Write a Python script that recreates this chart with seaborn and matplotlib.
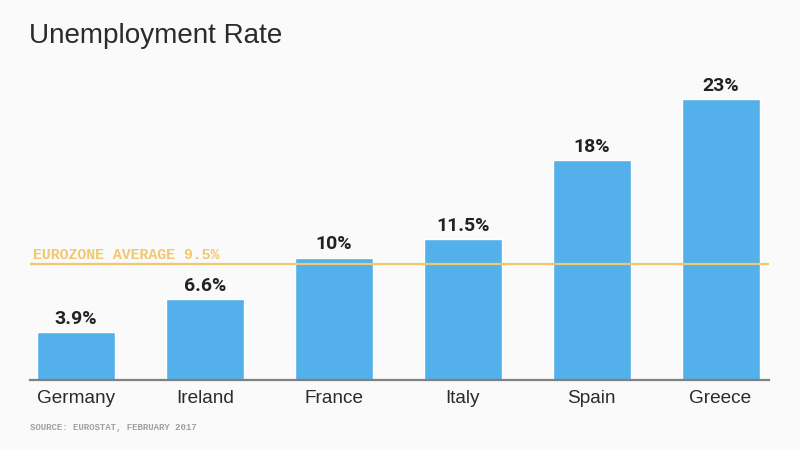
import matplotlib
matplotlib.use('Agg')
import matplotlib.pyplot as plt
import seaborn as sns

# Datos
countries = ['Germany', 'Ireland', 'France', 'Italy', 'Spain', 'Greece']
rates = [3.9, 6.6, 10, 11.5, 18, 23]
rate_labels = ['3.9%', '6.6%', '10%', '11.5%', '18%', '23%']
eurozone_avg = 9.5

BG = '#fafafa'
BLUE = '#54b0ea'
YELLOW = '#f2c76e'
DARK = '#2b2b2b'

sns.set_style("white")
plt.rcParams['font.family'] = ['Liberation Sans', 'DejaVu Sans']

fig = plt.figure(figsize=(8, 4.5), dpi=100, facecolor=BG)
# eje colocado a mano: x 30-769 px, base en y=379.5 px, arriba en y=60 px
ax = fig.add_axes([30 / 800, (450 - 379.5) / 450, 739 / 800, 319.5 / 450], facecolor=BG)

sns.barplot(x=countries, y=rates, color=BLUE, saturation=1, width=0.605, ax=ax)

ax.set_xlim(-0.357, 5.376)
ax.set_ylim(0, 26.22)
ax.set_yticks([])
ax.set_xlabel('')
ax.set_ylabel('')
sns.despine(ax=ax, left=True, top=True, right=True)
ax.spines['bottom'].set_color('#808080')
ax.spines['bottom'].set_linewidth(1.6)
ax.spines['bottom'].set_zorder(5)
ax.tick_params(axis='x', length=0, pad=7.5, labelsize=13.7, labelcolor=DARK)

# Línea del promedio
ax.axhline(eurozone_avg, color=YELLOW, lw=1.6, zorder=6)
ax.annotate('EUROZONE AVERAGE 9.5%', xy=(0, eurozone_avg), xycoords=('axes fraction', 'data'),
            xytext=(2, 1.5), textcoords='offset points', ha='left', va='bottom',
            color=YELLOW, fontsize=10.7, fontweight='bold', family='Liberation Mono')

# Valores sobre las barras
for i, (val, label) in enumerate(zip(rates, rate_labels)):
    ax.annotate(label, xy=(i, val), xytext=(0, 3), textcoords='offset points',
                ha='center', va='bottom', fontsize=14, fontweight='bold', color='#222222',
                family='Roboto')

fig.text(29 / 800, 1 - 36 / 450, 'Unemployment Rate', ha='left', va='center',
         fontsize=20.1, color=DARK)
fig.text(30 / 800, 1 - 428 / 450, 'SOURCE: EUROSTAT, FEBRUARY 2017', ha='left', va='center',
         fontsize=6.5, color='#a0a0a0', fontweight='bold', family='Liberation Mono')

fig.savefig('out.png', dpi=100, facecolor=BG)
plt.close()
